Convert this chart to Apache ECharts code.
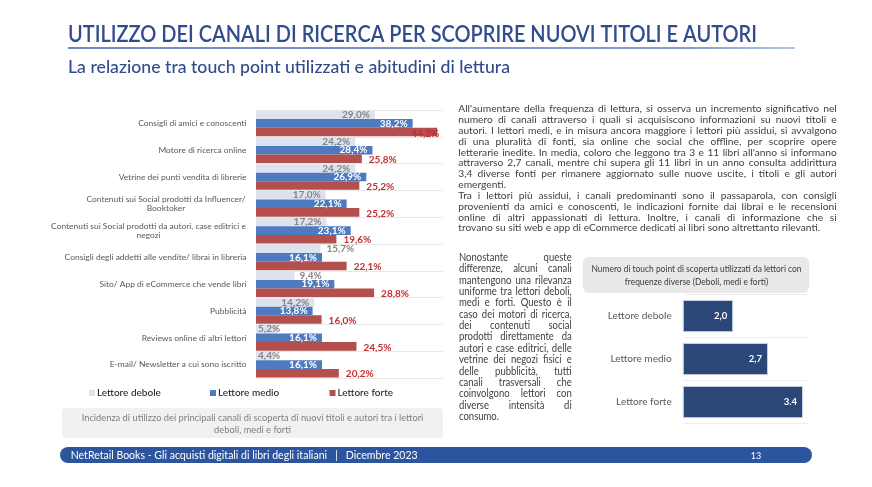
<!DOCTYPE html>
<html><head><meta charset="utf-8">
<script src="https://cdn.jsdelivr.net/npm/echarts@6/dist/echarts.min.js"></script>
<style>html,body{margin:0;padding:0;background:#fff}#c{width:872px;height:487px}</style>
</head><body><div id="c"></div>
<script>
// ---------- DATA ----------
const channels = [
  'Consigli di amici e conoscenti',
  'Motore di ricerca online',
  'Vetrine dei punti vendita di librerie',
  'Contenuti sui Social prodotti da Influencer/\nBooktoker',
  'Contenuti sui Social prodotti da autori, case editrici e\nnegozi',
  'Consigli degli addetti alle vendite/ librai in libreria',
  'Sito/ App di eCommerce che vende libri',
  'Pubblicità',
  'Reviews online di altri lettori',
  'E-mail/ Newsletter a cui sono iscritto'
];
const seriesNames = ['Lettore debole', 'Lettore medio', 'Lettore forte'];
const debole = [29.0, 24.2, 24.2, 17.0, 17.2, 15.7, 9.4, 14.2, 5.2, 4.4];
const medio  = [38.2, 28.4, 26.9, 22.1, 23.1, 16.1, 19.1, 13.8, 16.1, 16.1];
const forte  = [44.2, 25.8, 25.2, 25.2, 19.6, 22.1, 28.8, 16.0, 24.5, 20.2];

const touchCats = ['Lettore debole', 'Lettore medio', 'Lettore forte'];
const touchValues = [2.0, 2.7, 3.4];
const touchLabels = ['2,0', '2,7', '3.4'];

const titleText = 'UTILIZZO DEI CANALI DI RICERCA PER SCOPRIRE NUOVI TITOLI E AUTORI';
const subtitleText = 'La relazione tra touch point utilizzati e abitudini di lettura';
const captionLines = ['Incidenza di utilizzo dei principali canali di scoperta di nuovi titoli e autori tra i lettori', 'deboli, medi e forti'];
const headerLines = ['Numero di touch point di scoperta utilizzati da lettori con', 'frequenze diverse (Deboli, medi e forti)'];
const footerText = 'NetRetail Books - Gli acquisti digitali di libri degli italiani   |   Dicembre 2023';
const pageNumber = '13';
const para1 = [
  "All'aumentare della frequenza di lettura, si osserva un incremento significativo nel",
  "numero di canali attraverso i quali si acquisiscono informazioni su nuovi titoli e",
  "autori. I lettori medi, e in misura ancora maggiore i lettori più assidui, si avvalgono",
  "di una pluralità di fonti, sia online che social che offline, per scoprire opere",
  "letterarie inedite. In media, coloro che leggono tra 3 e 11 libri all'anno si informano",
  "attraverso 2,7 canali, mentre chi supera gli 11 libri in un anno consulta addirittura",
  "3,4 diverse fonti per rimanere aggiornato sulle nuove uscite, i titoli e gli autori",
  "emergenti.",
  "Tra i lettori più assidui, i canali predominanti sono il passaparola, con consigli",
  "provenienti da amici e conoscenti, le indicazioni fornite dai librai e le recensioni",
  "online di altri appassionati di lettura. Inoltre, i canali di informazione che si",
  "trovano su siti web e app di eCommerce dedicati ai libri sono altrettanto rilevanti."
];
const para1Ragged = [7, 11];
const para2 = [
  "Nonostante queste",
  "differenze, alcuni canali",
  "mantengono una rilevanza",
  "uniforme tra lettori deboli,",
  "medi e forti. Questo è il",
  "caso dei motori di ricerca,",
  "dei contenuti social",
  "prodotti direttamente da",
  "autori e case editrici, delle",
  "vetrine dei negozi fisici e",
  "delle pubblicità, tutti",
  "canali trasversali che",
  "coinvolgono lettori con",
  "diverse intensità di",
  "consumo."
];
const para2Ragged = [14];

// ---------- HELPERS ----------
const FF = 'Lato, "Noto Sans", sans-serif';
const cv = document.createElement('canvas');
const ctx = cv.getContext('2d');
function measure(text, font) { ctx.font = font; return ctx.measureText(text).width; }
function fitSize(text, weight, target) { return target / (measure(text, weight + ' 100px ' + FF) / 100); }
function pct(v) { return v.toFixed(1).replace('.', ',') + '%'; }

function textEl(text, x, y, size, weight, color, align, scaleX) {
  const font = weight + ' ' + size + 'px ' + FF;
  return {
    type: 'text', x: x, y: y, scaleX: scaleX || 1, silent: true, z: 10,
    style: { text: text, x: 0, y: 0, font: font, fill: color,
      align: align || 'left', verticalAlign: 'middle',
      textAlign: align || 'left', textVerticalAlign: 'middle' }
  };
}
function fitText(text, x, y, targetW, size, weight, color, align) {
  const font = weight + ' ' + size + 'px ' + FF;
  const s = targetW / measure(text, font);
  return textEl(text, x, y, size, weight, color, align, s);
}
function justify(lines, ragged, x0, y0, W, lh, size, color) {
  const font = 'normal ' + size + 'px ' + FF;
  let maxN = 0;
  lines.forEach((l, i) => { if (ragged.indexOf(i) < 0) maxN = Math.max(maxN, measure(l, font)); });
  const sc = Math.min(1, (W * 0.97) / maxN);
  const els = [];
  const sp = measure(' ', font) * sc;
  lines.forEach((l, i) => {
    const words = l.split(' ');
    const ws = words.map(w => measure(w, font) * sc);
    const tot = ws.reduce((a, b) => a + b, 0);
    const gap = (ragged.indexOf(i) < 0 && words.length > 1) ? (W - tot) / (words.length - 1) : sp;
    let x = x0;
    words.forEach((w, k) => {
      els.push(textEl(w, x, y0 + i * lh, size, 'normal', color, 'left', sc));
      x += ws[k] + gap;
    });
  });
  return els;
}

// ---------- LAYOUT / STYLES ----------
const catFontSize = fitSize('Consigli degli addetti alle vendite/ librai in libreria', 'normal', 182);
const catRich = {};
channels.forEach((c, i) => {
  if (c.indexOf('\n') >= 0) {
    const w = Math.max.apply(null, c.split('\n').map(l => measure(l, 'normal ' + catFontSize + 'px ' + FF)));
    catRich['m' + i] = { width: Math.ceil(w) + 1, align: 'center', fontSize: catFontSize, fontFamily: FF, color: '#595959', lineHeight: 9.5 };
  }
});
const debolePos = { 5: { position: 'right', distance: 6 }, 6: { position: 'right', distance: 5 }, 8: { position: 'insideLeft', distance: 2 }, 9: { position: 'insideLeft', distance: 2 } };
const fortePos = { 0: { position: 'insideRight', offset: [9, 2] } };
const touchFontSize = fitSize('Lettore debole', 'normal', 64);
const legendLefts = [89, 210, 329.5];
const serieColors = ['#DCE3EF', '#4E7AC0', '#B3504E'];

const graphic = [
  // title area
  fitText(titleText, 68, 35, 689, 22, '600', '#2F4C8D', 'left'),
  { type: 'line', silent: true, shape: { x1: 68, y1: 48, x2: 795, y2: 48 },
    style: { stroke: { type: 'linear', x: 0, y: 0, x2: 1, y2: 0, colorStops: [{ offset: 0, color: '#3F62A8' }, { offset: 0.85, color: '#5C7CBC' }, { offset: 1, color: '#9DB2DA' }] }, lineWidth: 1.6 } },
  fitText(subtitleText, 68, 67, 442, 18, '500', '#2F4C8D', 'left'),
  // caption box under left chart
  { type: 'rect', silent: true, z: 1, shape: { x: 62, y: 408, width: 381, height: 30, r: 4 }, style: { fill: '#F1F1F1' } },
  fitText(captionLines[0], 252.5, 417.5, 341.7, 9.8, 'normal', '#7F7F7F', 'center'),
  textEl(captionLines[1], 252.5, 430, 9.8, 'normal', '#7F7F7F', 'center', 341.7 / measure(captionLines[0], 'normal 9.8px ' + FF)),
  // header box of the right chart
  { type: 'rect', silent: true, z: 1, shape: { x: 583, y: 257, width: 226, height: 36, r: 6 }, style: { fill: '#E9E9E9' } },
  fitText(headerLines[0], 696.5, 269, 210, 10, 'normal', '#3A3A3A', 'center'),
  textEl(headerLines[1], 696.5, 281.7, 10, 'normal', '#3A3A3A', 'center', 210 / measure(headerLines[0], 'normal 10px ' + FF)),
  // footer
  { type: 'rect', silent: true, z: 1, shape: { x: 60, y: 447, width: 752, height: 16, r: 8 }, style: { fill: '#2D559E' } },
  fitText(footerText, 70.7, 455.5, 347, 12, 'normal', '#FFFFFF', 'left'),
  textEl(pageNumber, 756, 455.5, 10, 'normal', '#FFFFFF', 'center', 0.9)
].concat(
  justify(para1, para1Ragged, 458.3, 109, 378.4, 10.83, 10.3, '#404040'),
  justify(para2, para2Ragged, 459, 257.3, 112.7, 11.37, 11, '#404040')
);

const option = {
  animation: false,
  backgroundColor: '#FFFFFF',
  textStyle: { fontFamily: FF },
  legend: seriesNames.map((n, i) => ({
    data: [n], left: legendLefts[i], top: 388, padding: 0,
    itemWidth: 6, itemHeight: 6, itemGap: 10, icon: 'rect', selectedMode: false,
    textStyle: { fontFamily: FF, fontSize: 10, fontWeight: 500, color: '#262626', padding: [0, 0, 0, -3] }
  })),
  grid: [
    { left: 256, right: 429, top: 110, bottom: 109, containLabel: false },
    { left: 683.3, right: 64, top: 294.5, bottom: 63.5, containLabel: false }
  ],
  xAxis: [
    { gridIndex: 0, type: 'value', min: 0, max: 45.6, show: false },
    { gridIndex: 1, type: 'value', min: 1, max: 3.5, show: false }
  ],
  yAxis: [
    { gridIndex: 0, type: 'category', inverse: true, data: channels,
      axisLine: { show: false }, axisTick: { show: false },
      splitLine: { show: true, lineStyle: { color: '#E8E8E8', width: 1 } },
      axisLabel: { margin: 9.5, fontSize: catFontSize, fontFamily: FF, color: '#595959', lineHeight: 9.5, rich: catRich,
        formatter: (v, i) => v.indexOf('\n') >= 0 ? v.split('\n').map(l => '{m' + i + '|' + l + '}').join('\n') : v } },
    { gridIndex: 1, type: 'category', inverse: true, data: touchCats,
      axisLine: { show: false }, axisTick: { show: false },
      splitLine: { show: true, lineStyle: { color: '#EEEEEE', width: 1 } },
      axisLabel: { margin: 11.6, fontSize: touchFontSize, fontFamily: FF, color: '#595959' } }
  ],
  series: [
    { name: seriesNames[0], type: 'bar', xAxisIndex: 0, yAxisIndex: 0, barGap: '0%', barCategoryGap: '4%',
      itemStyle: { color: serieColors[0] },
      label: { show: true, position: 'insideRight', distance: 5, color: '#858585', fontFamily: FF, fontWeight: 'bold', fontSize: 10, formatter: p => pct(p.value) },
      data: debole.map((v, i) => debolePos[i] ? { value: v, label: debolePos[i] } : v) },
    { name: seriesNames[1], type: 'bar', xAxisIndex: 0, yAxisIndex: 0, barGap: '0%', barCategoryGap: '4%',
      itemStyle: { color: serieColors[1] },
      label: { show: true, position: 'insideRight', distance: 5, color: '#FFFFFF', fontFamily: FF, fontWeight: 'bold', fontSize: 10, formatter: p => pct(p.value) },
      data: medio },
    { name: seriesNames[2], type: 'bar', xAxisIndex: 0, yAxisIndex: 0, barGap: '0%', barCategoryGap: '4%',
      itemStyle: { color: serieColors[2] },
      label: { show: true, position: 'right', distance: 7, offset: [0, 1], color: '#C0302F', fontFamily: FF, fontWeight: 'bold', fontSize: 10, formatter: p => pct(p.value) },
      data: forte.map((v, i) => fortePos[i] ? { value: v, label: fortePos[i] } : v) },
    { name: 'Touch point', type: 'bar', xAxisIndex: 1, yAxisIndex: 1, barCategoryGap: '25%',
      itemStyle: { color: '#2B4777', borderColor: '#C9D4E6', borderWidth: 1 },
      label: { show: true, position: 'insideRight', distance: 6, color: '#FFFFFF', fontFamily: FF, fontWeight: 'bold', fontSize: 9.5, formatter: p => touchLabels[p.dataIndex] },
      data: touchValues }
  ],
  graphic: graphic
};
const chart = echarts.init(document.getElementById('c'), null, { renderer: 'canvas' });
chart.setOption(option);
</script>
</body></html>
